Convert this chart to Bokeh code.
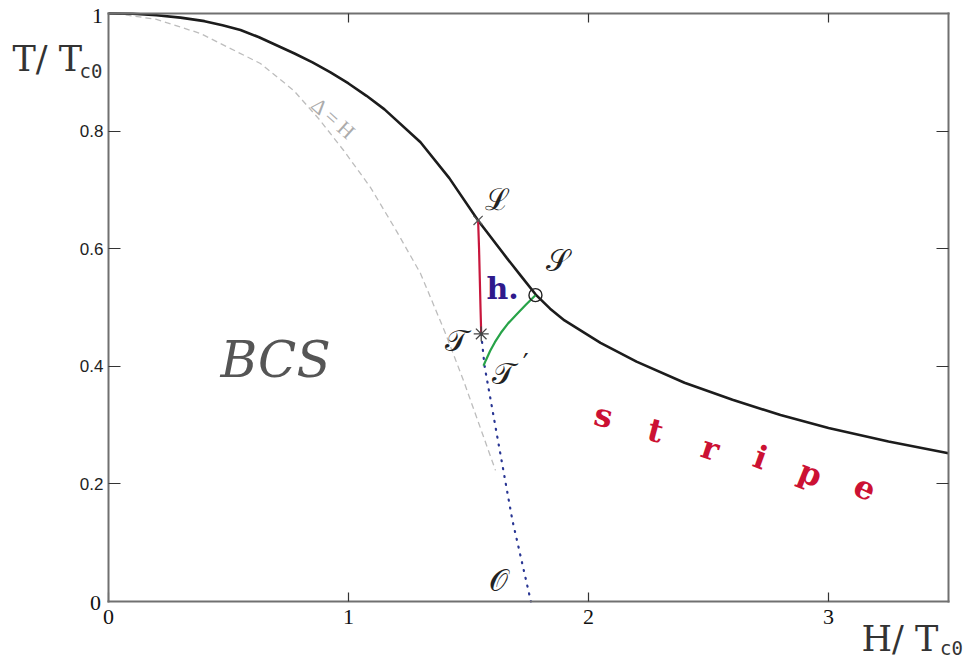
from bokeh.plotting import figure
from bokeh.models import LinearAxis, FixedTicker, Range1d
from bokeh.core.properties import value
from bokeh.embed import file_html
from bokeh.resources import INLINE

# Phase boundary T_c(H)/T_c0 versus H/T_c0
H_boundary = [0.0, 0.1, 0.2, 0.3, 0.4, 0.475, 0.55, 0.625, 0.7, 0.775, 0.85, 0.925, 1.0, 1.075,
              1.15, 1.3, 1.42, 1.54, 1.66, 1.72, 1.78, 1.84, 1.9, 2.05, 2.2, 2.4, 2.6, 2.8,
              3.0, 3.25, 3.5]
T_boundary = [1.0, 0.9995, 0.997, 0.993, 0.987, 0.980, 0.972, 0.960, 0.946, 0.932, 0.917, 0.9,
              0.881, 0.86, 0.837, 0.781, 0.72, 0.648, 0.584, 0.553, 0.522, 0.498, 0.478, 0.44,
              0.408, 0.372, 0.343, 0.317, 0.295, 0.272, 0.252]

# Gap equals field line (Delta = H)
H_gap_line = [0.03, 0.2, 0.383, 0.633, 0.772, 0.876, 0.98, 1.092, 1.2, 1.3, 1.4, 1.479, 1.6125]
T_gap_line = [1.0, 0.99, 0.966, 0.915, 0.869, 0.821, 0.767, 0.704, 0.63, 0.558, 0.46, 0.376, 0.223]

# Dotted continuation from T down to O
H_dotted = [1.553, 1.567, 1.62, 1.683, 1.76]
T_dotted = [0.455, 0.40, 0.28, 0.138, 0.0]

# First-order line from L to T
H_red = [1.54, 1.544, 1.547, 1.55, 1.553]
T_red = [0.648, 0.60, 0.55, 0.50, 0.455]

# Line from S to T'
H_green = [1.779, 1.74, 1.70, 1.665, 1.635, 1.61, 1.59, 1.572, 1.5625]
T_green = [0.521, 0.505, 0.488, 0.473, 0.457, 0.441, 0.426, 0.41, 0.401]

# Special points: L (cross), S (open circle), T (asterisk)
L_point = [1.54, 0.648]
S_point = [1.779, 0.521]
T_point = [1.553, 0.455]

x_ticks = [0, 1, 2, 3]
y_ticks = [0.2, 0.4, 0.6, 0.8]

W, Hpx = 975, 659
# the frame spans the whole canvas; the box (0..3.5, 0..1) sits inside it
x0_px, x_scale = 108, 240.0
y0_px, y_scale = 601, 588.0
xr = Range1d(-x0_px / x_scale, (W - x0_px) / x_scale)
yr = Range1d((y0_px - Hpx) / y_scale, y0_px / y_scale)

p = figure(width=W, height=Hpx, x_range=xr, y_range=yr,
           output_backend="svg", toolbar_location=None,
           x_axis_location=None, y_axis_location=None,
           min_border=0, background_fill_color="white", border_fill_color="white")
p.grid.visible = False
p.outline_line_color = None

AXIS_GREY = "#707070"
TICK_COL = "#333333"


def box_axis(side, loc, bounds, ticks, tick_len, labels=True):
    ax = LinearAxis(ticker=FixedTicker(ticks=ticks), fixed_location=loc, bounds=bounds,
                    axis_line_color=AXIS_GREY, axis_line_width=2, axis_line_cap="square",
                    major_tick_in=tick_len, major_tick_out=0,
                    major_tick_line_color=TICK_COL, major_tick_line_width=1.2,
                    minor_tick_line_color=None)
    if not labels:
        ax.major_label_text_color = None
    p.add_layout(ax, side)
    return ax


xb = box_axis("below", 0, (0, 3.5), x_ticks, 9)
xb.major_label_text_font = "Liberation Serif"
xb.major_label_text_font_size = "22px"
xb.major_label_text_color = "#111111"
xb.major_label_standoff = 8

yl = box_axis("left", 0, (0, 1), y_ticks, 12)
yl.major_label_text_font = "Liberation Sans"
yl.major_label_text_font_size = "17px"
yl.major_label_text_color = "#222222"
yl.major_label_standoff = 5

box_axis("right", 3.5, (0, 1), y_ticks, 12, labels=False)
box_axis("above", 1, (0, 3.5), [1, 2, 3], 9, labels=False)

# curves
p.line(H_gap_line, T_gap_line, line_color="#bdbdbd", line_width=1.3, line_dash="6 4")
p.line(H_boundary, T_boundary, line_color="#1c1c1c", line_width=2.6)
p.line(H_dotted, T_dotted, line_color="#283593", line_width=2.2, line_dash="1 7", line_cap="round")
p.line(H_red, T_red, line_color="#c8163c", line_width=2.2)
p.line(H_green, T_green, line_color="#27a348", line_width=2.2)

# special points
p.scatter([L_point[0]], [L_point[1]], marker="x", size=13, line_color="#555555", line_width=1.3)
p.scatter([S_point[0]], [S_point[1]], marker="circle", size=13, fill_color=None,
          line_color="#222222", line_width=1.4)
p.scatter([T_point[0]], [T_point[1]], marker="asterisk", size=15, line_color="#444444", line_width=1.3)

# point names
p.text(x=[1.621, 1.871, 1.45, 1.645, 1.625], y=[0.684, 0.580, 0.444, 0.388, 0.036],
       text=["ℒ", "𝒮", "𝒯", "𝒯", "𝒪"], text_font=value("DejaVu Serif"),
       text_font_size="30px", text_color="#222222", text_align="center", text_baseline="middle")
p.text(x=[1.738], y=[0.404], text=["′"], text_font=value("DejaVu Sans"),
       text_font_size="26px", text_color="#222222", text_align="center", text_baseline="middle")

p.text(x=[1.642], y=[0.532], text=["h."], text_font=value("DejaVu Serif"),
       text_font_style="bold", text_font_size="30px", text_color="#2f1a8c",
       text_align="center", text_baseline="middle")

p.text(x=[0.696], y=[0.41], text=["BCS"], text_font=value("DejaVu Serif"),
       text_font_style="italic", text_font_size="50px", text_color="#555555",
       text_align="center", text_baseline="middle")

p.text(x=[0.9375], y=[0.821], text=["Δ = H"], text_font=value("Liberation Serif"),
       text_font_size="21px", text_color="#ababab", angle=-42, angle_units="deg",
       text_align="center", text_baseline="middle")

# "stripe" spelled out along the lower right
p.text(x=[2.0625, 2.279, 2.508, 2.717, 2.925, 3.154],
       y=[0.3163, 0.2908, 0.2602, 0.2449, 0.2177, 0.1939],
       text=list("stripe"), angle=[-12, -15, -18, -20, -22, -25], angle_units="deg",
       text_font=value("DejaVu Serif"), text_font_style="bold", text_font_size="32px",
       text_color="#cc1133", text_align="center", text_baseline="middle")

# axis titles
p.text(x=[-0.4, 3.1375], y=[0.9218, -0.0646], text=["T/ T", "H/ T"],
       text_font=value("DejaVu Serif"), text_font_size="35px", text_color="#333333",
       text_align="left", text_baseline="alphabetic")
p.text(x=[-0.1208, 3.465], y=[0.903, -0.0799], text=["c0", "c0"],
       text_font=value("DejaVu Sans Mono"), text_font_size="19px", text_color="#333333",
       text_align="left", text_baseline="alphabetic")

# serif end labels of the T axis
p.text(x=[-0.0458, -0.054], y=[0.995, -0.0034], text=["1", "0"],
       text_font=value("Liberation Serif"), text_font_size="22px", text_color="#111111",
       text_align="center", text_baseline="middle")

open("out.html", "w").write(file_html(p, INLINE))
